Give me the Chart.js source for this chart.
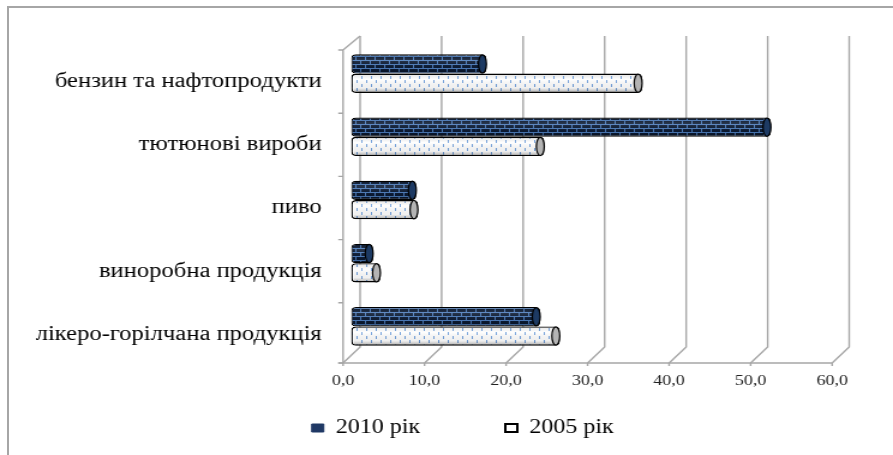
<!DOCTYPE html>
<html>
<head>
<meta charset="utf-8">
<script src="https://cdn.jsdelivr.net/npm/chart.js@4.4.0/dist/chart.umd.min.js"></script>
<style>
  html, body { margin: 0; padding: 0; background: #fff; }
  #wrap { position: relative; width: 893px; height: 455px; overflow: hidden; }
  #frame { position: absolute; left: 7px; top: 6px; width: 950px; height: 500px;
           border-left: 2px solid #a6a6a6; border-top: 2px solid #a6a6a6; }
  #c { position: absolute; left: 0; top: 0; }
</style>
</head>
<body>
<div id="wrap">
  <div id="frame"></div>
  <!-- drawn narrow and stretched wide, like the original picture -->
  <canvas id="c" width="744" height="455" style="width:893px;height:455px"></canvas>
</div>
<script>
const categories = [
  "бензин та нафтопродукти",
  "тютюнові вироби",
  "пиво",
  "виноробна продукція",
  "лікеро-горілчана продукція"
];
const seriesNames = ["2010 рік", "2005 рік"];
const values2010 = [16.6, 51.5, 8.0, 2.7, 23.2];
const values2005 = [35.7, 23.7, 8.2, 3.6, 25.6];
const xTickLabels = ["0,0", "10,0", "20,0", "30,0", "40,0", "50,0", "60,0"];

const serif = "'Liberation Serif', 'Times New Roman', serif";
const gridColor = "#a6a6a6";

const canvas = document.getElementById("c");
const ctx = canvas.getContext("2d");

// brick fill for 2010
function brickPattern() {
  const pc = document.createElement("canvas");
  pc.width = 8;
  pc.height = 8;
  const p = pc.getContext("2d");
  p.fillStyle = "#0b1a33";
  p.fillRect(0, 0, 8, 8);
  p.fillStyle = "#4d7dbd";
  p.fillRect(0, 0, 8, 1);
  p.fillRect(0, 4, 8, 1);
  p.fillRect(0, 0, 1, 4);
  p.fillRect(4, 4, 1, 4);
  return ctx.createPattern(pc, "repeat");
}

// small dashes for 2005
function dotPattern() {
  const pc = document.createElement("canvas");
  pc.width = 8;
  pc.height = 8;
  const p = pc.getContext("2d");
  p.fillStyle = "#ffffff";
  p.fillRect(0, 0, 8, 8);
  p.fillStyle = "#6f9fdc";
  p.fillRect(1, 0, 1, 3);
  p.fillRect(5, 4, 1, 3);
  return ctx.createPattern(pc, "repeat");
}

// back wall, floor and left wall of the 3D box
const boxPlugin = {
  id: "box3d",
  beforeDatasetsDraw(chart) {
    const { ctx, chartArea: ca, scales } = chart;
    const xs = scales.x;
    const back = 7.5, front = -6.7, backBottom = ca.bottom - 11, frontY = ca.bottom + 5;
    ctx.save();
    ctx.strokeStyle = gridColor;
    ctx.lineWidth = 1.4;
    xs.ticks.forEach((t) => {
      const px = xs.getPixelForValue(t.value);
      ctx.beginPath();
      ctx.moveTo(px + back, ca.top - 6);
      ctx.lineTo(px + back, backBottom);
      ctx.lineTo(px + front, frontY);
      ctx.moveTo(px + front, frontY);
      ctx.lineTo(px + front, frontY + 3);
      ctx.stroke();
    });
    const x0 = xs.getPixelForValue(0) + front;
    const x60 = xs.getPixelForValue(60) + front;
    ctx.beginPath();
    ctx.moveTo(x0 - 4, frontY);
    ctx.lineTo(x60, frontY);
    ctx.stroke();
    // left wall
    const band = (ca.bottom - ca.top) / categories.length;
    ctx.beginPath();
    ctx.moveTo(x0, frontY);
    ctx.lineTo(x0, ca.top + 8);
    ctx.lineTo(xs.getPixelForValue(0) + back, ca.top - 6);
    for (let k = 0; k <= categories.length; k++) {
      const y = Math.min(ca.top + 8 + k * band, frontY);
      ctx.moveTo(x0 - 4, y);
      ctx.lineTo(x0, y);
    }
    ctx.stroke();
    ctx.restore();
  }
};

// cylinder shading and end caps
const cylinderPlugin = {
  id: "cylinder",
  afterDatasetsDraw(chart) {
    const ctx = chart.ctx;
    chart.data.datasets.forEach((ds, di) => {
      chart.getDatasetMeta(di).data.forEach((el) => {
        const { x, y, base, height } = el.getProps(["x", "y", "base", "height"], true);
        const h = height / 2;
        ctx.save();
        const g = ctx.createLinearGradient(0, y - h, 0, y + h);
        g.addColorStop(0, "rgba(0,0,0,0.10)");
        g.addColorStop(0.3, "rgba(255,255,255,0.12)");
        g.addColorStop(0.75, "rgba(0,0,0,0.06)");
        g.addColorStop(1, "rgba(0,0,0,0.35)");
        ctx.fillStyle = g;
        ctx.fillRect(base + 2, y - h + 1, x - base - 5, height - 2);
        ctx.beginPath();
        ctx.ellipse(x - 3.3, y, 3.3, h - 0.5, 0, 0, Math.PI * 2);
        ctx.fillStyle = di === 1 ? "#b4b4b4" : "#1d3a63";
        ctx.fill();
        ctx.strokeStyle = "#000";
        ctx.lineWidth = 1.2;
        ctx.stroke();
        ctx.restore();
      });
    });
  }
};

// move the legend to where it sits in the picture
const legendPlace = {
  id: "legendPlace",
  afterLayout(chart) {
    const lg = chart.legend;
    lg.top = 347;
    lg.bottom = 455;
    lg.height = 108;
    lg.left += 31.5;
    lg.right += 31.5;
  }
};

new Chart(canvas, {
  type: "bar",
  data: {
    labels: categories,
    datasets: [
      {
        label: seriesNames[0],
        data: values2010,
        backgroundColor: brickPattern(),
        borderColor: "#000",
        borderWidth: 1.2,
        borderRadius: 4,
        borderSkipped: false
      },
      {
        label: seriesNames[1],
        data: values2005,
        backgroundColor: dotPattern(),
        borderColor: "#000",
        borderWidth: 1.4,
        borderRadius: 4,
        borderSkipped: false
      }
    ]
  },
  options: {
    indexAxis: "y",
    responsive: false,
    animation: false,
    devicePixelRatio: 1,
    datasets: {
      bar: { categoryPercentage: 0.61, barPercentage: 1.0 }
    },
    layout: { padding: { left: 8, right: 44, top: 42, bottom: 0 } },
    scales: {
      x: {
        min: 0,
        max: 60,
        grid: { display: false, drawTicks: false },
        border: { display: false },
        ticks: {
          stepSize: 10,
          padding: 14,
          labelOffset: -6.7,
          color: "#222",
          font: { family: serif, size: 15 },
          callback: (v, i) => xTickLabels[i]
        },
        afterFit: (s) => { s.height = 37; }
      },
      y: {
        grid: { display: false, drawTicks: false },
        border: { display: false },
        ticks: {
          padding: 24.5,
          labelOffset: 8,
          color: "#000",
          font: { family: serif, size: 20.5 }
        },
        afterFit: (s) => { s.width = 284.5; }
      }
    },
    plugins: {
      tooltip: { enabled: false },
      legend: {
        position: "bottom",
        maxHeight: 60,
        labels: {
          boxWidth: 10,
          boxHeight: 8,
          padding: 71,
          color: "#000",
          font: { family: serif, size: 20 },
          generateLabels(chart) {
            const items = Chart.defaults.plugins.legend.labels.generateLabels(chart);
            items[0].fillStyle = "#1f3864";
            items[0].strokeStyle = "#1f3864";
            items[0].lineWidth = 1;
            items[1].fillStyle = "#ffffff";
            items[1].strokeStyle = "#000000";
            items[1].lineWidth = 2;
            return items;
          }
        }
      }
    }
  },
  plugins: [boxPlugin, cylinderPlugin, legendPlace]
});
</script>
</body>
</html>
